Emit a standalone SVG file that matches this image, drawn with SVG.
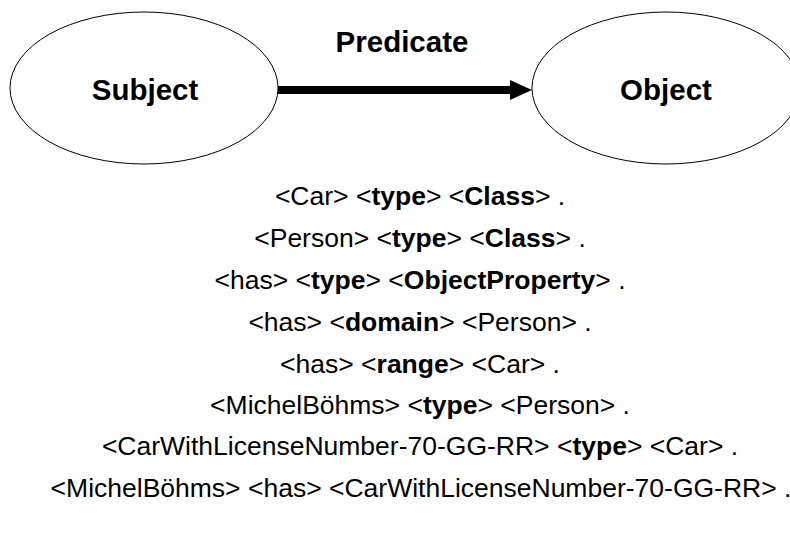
<svg xmlns="http://www.w3.org/2000/svg" width="790" height="548" viewBox="0 0 790 548">
<defs>
<style>
.node{fill:#fff;stroke:#000;stroke-width:1}
.lbl{font-family:"Liberation Sans",Arial,sans-serif;font-weight:bold;font-size:29.5px;text-anchor:middle;fill:#000}
.t{font-family:"Liberation Sans",Arial,sans-serif;font-size:26.5px;text-anchor:middle;fill:#000}
.b{font-weight:bold}
</style>
</defs>
<rect width="790" height="548" fill="#fff"/>
<g id="subject">
<ellipse class="node" cx="144" cy="88" rx="134" ry="76"/>
<text class="lbl" x="145" y="100">Subject</text>
</g>
<g id="object">
<ellipse class="node" cx="666" cy="88" rx="134" ry="76"/>
<text class="lbl" x="666" y="100">Object</text>
</g>
<g id="connectors">
<line x1="278" y1="90" x2="512" y2="90" stroke="#000" stroke-width="8"/>
<polygon points="510,80 532,90 510,100" fill="#000"/>
<text class="lbl" x="402" y="52">Predicate</text>
</g>
<g id="triples">
<text class="t" x="420" y="205">&lt;Car&gt; &lt;<tspan class="b">type</tspan>&gt; &lt;<tspan class="b">Class</tspan>&gt; .</text>
<text class="t" x="420" y="247">&lt;Person&gt; &lt;<tspan class="b">type</tspan>&gt; &lt;<tspan class="b">Class</tspan>&gt; .</text>
<text class="t" x="420" y="289">&lt;has&gt; &lt;<tspan class="b">type</tspan>&gt; &lt;<tspan class="b">ObjectProperty</tspan>&gt; .</text>
<text class="t" x="420" y="331">&lt;has&gt; &lt;<tspan class="b">domain</tspan>&gt; &lt;Person&gt; .</text>
<text class="t" x="420" y="373">&lt;has&gt; &lt;<tspan class="b">range</tspan>&gt; &lt;Car&gt; .</text>
<text class="t" x="420" y="414">&lt;MichelBöhms&gt; &lt;<tspan class="b">type</tspan>&gt; &lt;Person&gt; .</text>
<text class="t" x="420" y="455">&lt;CarWithLicenseNumber-70-GG-RR&gt; &lt;<tspan class="b">type</tspan>&gt; &lt;Car&gt; .</text>
<text class="t" x="421" y="497">&lt;MichelBöhms&gt; &lt;has&gt; &lt;CarWithLicenseNumber-70-GG-RR&gt; .</text>
</g>
</svg>
